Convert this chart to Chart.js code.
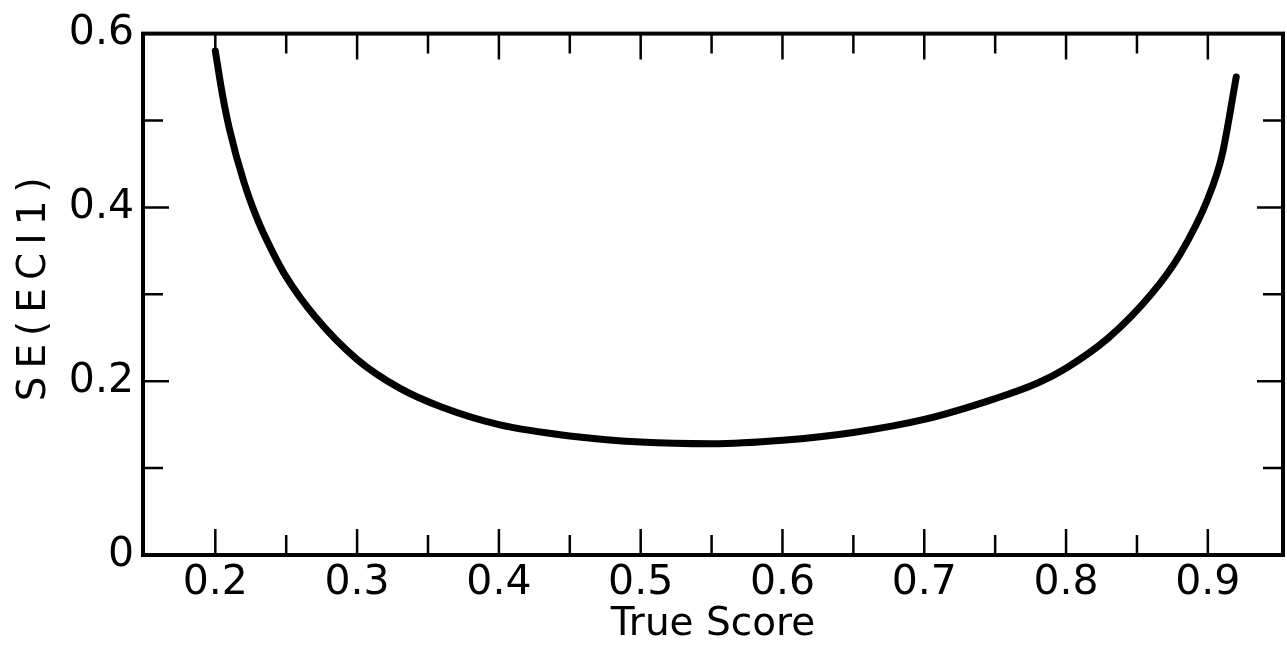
<!DOCTYPE html>
<html>
<head>
<meta charset="utf-8">
<script src="https://cdn.jsdelivr.net/npm/chart.js@4/dist/chart.umd.min.js"></script>
<style>
  html, body { margin: 0; padding: 0; background: #fff; }
  #wrap { width: 1287px; height: 656px; }
</style>
</head>
<body>
<div id="wrap"><canvas id="c" width="1287" height="656"></canvas></div>
<script>
// Standard error of ECI1 against true score
const trueScore = [0.200, 0.205, 0.210, 0.220, 0.230, 0.240, 0.250, 0.270, 0.300, 0.330, 0.360, 0.400,
                   0.450, 0.500, 0.550, 0.600, 0.650, 0.700, 0.750, 0.780, 0.800, 0.830, 0.860, 0.880,
                   0.900, 0.910, 0.920];
const seECI1    = [0.580, 0.530, 0.490, 0.430, 0.385, 0.350, 0.320, 0.275, 0.225, 0.192, 0.170, 0.150,
                   0.137, 0.130, 0.128, 0.132, 0.141, 0.156, 0.180, 0.198, 0.215, 0.250, 0.300, 0.345,
                   0.410, 0.460, 0.550];

// Axis ticks
const xTickValues = [0.2, 0.3, 0.4, 0.5, 0.6, 0.7, 0.8, 0.9];
const xTickLabels = ['0.2', '0.3', '0.4', '0.5', '0.6', '0.7', '0.8', '0.9'];
const xMinorTicks = [0.25, 0.35, 0.45, 0.55, 0.65, 0.75, 0.85];
const yTickValues = [0, 0.2, 0.4, 0.6];
const yTickLabels = ['0', '0.2', '0.4', '0.6'];
const yMinorTicks = [0.1, 0.3, 0.5];
const yTitle = 'SE(ECI1)';

const FONT = "'DejaVu Sans', 'Liberation Sans', sans-serif";
const TICK_SIZE = 41;
const TITLE_SIZE = 39;
const TITLE_SPACING = 8;

// Frame around the plot area with tick marks pointing inward on all four sides
const frameTicks = {
  id: 'frameTicks',
  afterDatasetsDraw(chart) {
    const { ctx, chartArea: a, scales: { x, y } } = chart;
    const MAJOR = 26, MINOR = 20;
    ctx.save();
    ctx.strokeStyle = '#000';
    ctx.lineCap = 'butt';
    ctx.lineWidth = 2.5;
    ctx.beginPath();
    const xt = (v, len) => {
      const px = x.getPixelForValue(v);
      ctx.moveTo(px, a.bottom); ctx.lineTo(px, a.bottom - len);
      ctx.moveTo(px, a.top);    ctx.lineTo(px, a.top + len);
    };
    const yt = (v, len) => {
      const py = y.getPixelForValue(v);
      ctx.moveTo(a.left, py);  ctx.lineTo(a.left + len, py);
      ctx.moveTo(a.right, py); ctx.lineTo(a.right - len, py);
    };
    xTickValues.forEach(v => xt(v, MAJOR));
    xMinorTicks.forEach(v => xt(v, MINOR));
    yTickValues.slice(1, -1).forEach(v => yt(v, MAJOR));
    yMinorTicks.forEach(v => yt(v, MINOR));
    ctx.stroke();
    ctx.lineWidth = 4;
    ctx.strokeRect(a.left, a.top, a.right - a.left, a.bottom - a.top);
    ctx.restore();
  }
};

// Rotated, letter-spaced title for the value axis
const spacedYTitle = {
  id: 'spacedYTitle',
  afterDraw(chart) {
    const { ctx, chartArea: a } = chart;
    ctx.save();
    // letter spacing leaves a trailing gap, so nudge the anchor to keep the glyphs centred
    ctx.translate(35, (a.top + a.bottom) / 2 - TITLE_SPACING - 1);
    ctx.rotate(-Math.PI / 2);
    ctx.font = `${TITLE_SIZE}px ${FONT}`;
    ctx.fillStyle = '#000';
    ctx.textAlign = 'center';
    ctx.textBaseline = 'middle';
    if ('letterSpacing' in ctx) ctx.letterSpacing = TITLE_SPACING + 'px';
    ctx.fillText(yTitle, 0, 0);
    ctx.restore();
  }
};

new Chart(document.getElementById('c'), {
  type: 'line',
  data: {
    datasets: [{
      data: trueScore.map((t, i) => ({ x: t, y: seECI1[i] })),
      borderColor: '#000',
      borderWidth: 7,
      borderCapStyle: 'round',
      borderJoinStyle: 'round',
      pointRadius: 0,
      cubicInterpolationMode: 'monotone',
      fill: false
    }]
  },
  options: {
    responsive: false,
    animation: false,
    events: [],
    layout: { padding: { top: 21, right: 4, left: 0, bottom: 0 } },
    plugins: { legend: { display: false }, tooltip: { enabled: false } },
    scales: {
      x: {
        type: 'linear',
        min: 0.149,
        max: 0.953,
        afterBuildTicks: s => { s.ticks = xTickValues.map(v => ({ value: v })); },
        afterFit: s => { s.height = 101; },
        grid: { display: false, drawTicks: false },
        border: { display: false },
        ticks: {
          color: '#000',
          padding: 4,
          maxRotation: 0,
          autoSkip: false,
          font: { family: FONT, size: TICK_SIZE },
          callback: v => xTickLabels[xTickValues.findIndex(t => Math.abs(t - v) < 1e-9)]
        },
        title: {
          display: true,
          text: 'True Score',
          color: '#000',
          font: { family: FONT, size: TITLE_SIZE },
          padding: { top: 8, bottom: 8 }
        }
      },
      y: {
        type: 'linear',
        min: 0,
        max: 0.6,
        afterBuildTicks: s => { s.ticks = yTickValues.map(v => ({ value: v })); },
        afterFit: s => { s.width = 143; },
        grid: { display: false, drawTicks: false },
        border: { display: false },
        ticks: {
          color: '#000',
          padding: 9,
          autoSkip: false,
          font: { family: FONT, size: TICK_SIZE },
          callback: v => yTickLabels[yTickValues.findIndex(t => Math.abs(t - v) < 1e-9)]
        },
        title: { display: false }
      }
    }
  },
  plugins: [frameTicks, spacedYTitle]
});
</script>
</body>
</html>
